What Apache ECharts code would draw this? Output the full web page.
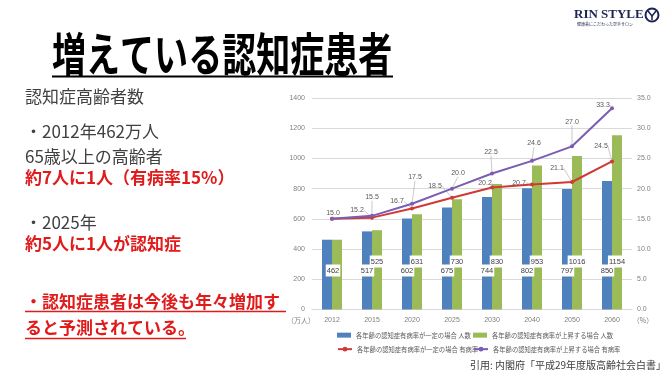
<!DOCTYPE html>
<html><head><meta charset="utf-8">
<script src="https://cdn.jsdelivr.net/npm/echarts@6/dist/echarts.min.js"></script>
<style>html,body{margin:0;padding:0;background:#fff}#c{width:668px;height:376px}</style>
</head><body><div id="c"></div>
<script>
// ---- data ----
const categories = ['2012','2015','2020','2025','2030','2040','2050','2060'];
const countConst = [462,517,602,675,744,802,797,850];
const countRise  = [462,525,631,730,830,953,1016,1154];
const rateConst  = [15.0,15.2,16.7,18.5,20.2,20.7,21.1,24.5];
const rateRise   = [15.0,15.5,17.5,20.0,22.5,24.6,27.0,33.3];
const seriesNames = [
  '各年齢の認知症有病率が一定の場合 人数',
  '各年齢の認知症有病率が上昇する場合 人数',
  '各年齢の認知症有病率が一定の場合 有病率',
  '各年齢の認知症有病率が上昇する場合 有病率'
];
const leftAxisName = '（万人）';
const rightAxisName = '（%）';

// ---- label placement (style only) ----
const riseLabelOffset  = [[1,-6],[0,-19],[3,-27],[6,-16],[-1,-22],[2,-18],[0,-25],[-9,-4]];
const constLabelOffset = [[0,0],[-15,-8],[-15,-8],[-17,-12],[-7,-5],[-13,-2],[-15,-14],[-11,-16]];

const C_BLUE='#4f81bd', C_GREEN='#9bbb59', C_RED='#cf3a36', C_PURPLE='#7b5cb3';
const GREY='#595959';
const RED_TXT='#e01b1b', DARK='#404040';
const JP='"Noto Sans CJK JP","Noto Sans",sans-serif';

const chart = echarts.init(document.getElementById('c'), null, {renderer:'canvas'});

function lineLayout(offsets){
  return function(p){
    const o = offsets[p.dataIndex];
    return {dx:o[0], dy:o[1]+6};
  };
}
const barLabel = (dist)=>({
  show:true, position:'insideBottom', distance:dist, fontSize:7.5, color:DARK,
  backgroundColor:'#fff', padding:[2,1], fontFamily:'Liberation Sans, sans-serif'
});

const leftText = [
  {t:'認知症高齢者数', y:97, c:DARK, w:'normal'},
  {t:'・2012年462万人', y:132, c:DARK, w:'normal'},
  {t:'65歳以上の高齢者', y:157, c:DARK, w:'normal'},
  {t:'約7人に1人（有病率15%）', y:178, c:RED_TXT, w:'bold'},
  {t:'・2025年', y:223, c:DARK, w:'normal'},
  {t:'約5人に1人が認知症', y:244, c:RED_TXT, w:'bold'},
  {t:'・認知症患者は今後も年々増加す', y:302, c:RED_TXT, w:'bold'},
  {t:'ると予測されている。', y:328, c:RED_TXT, w:'bold'}
];

const graphics = [
  {type:'text', x:52, y:53.5, scaleX:0.74, style:{text:'増えている認知症患者', x:0, y:0, fill:'#000',
    font:'bold 46px '+JP, verticalAlign:'middle'}},
  {type:'line', shape:{x1:52,y1:76.5,x2:393,y2:76.5}, style:{stroke:'#000', lineWidth:2}},
  {type:'text', style:{text:'RIN STYLE', x:574, y:15, fill:'#1b2452', font:'bold 13px "Liberation Serif",serif', verticalAlign:'middle'}},
  {type:'text', style:{text:'健康美にこだわった空手サロン', x:577, y:24, fill:'#1b2452', font:'4px '+JP, verticalAlign:'middle'}},
  {type:'circle', shape:{cx:652, cy:15, r:6.5}, style:{fill:'none', stroke:'#1b2452', lineWidth:2}},
  {type:'polyline', shape:{points:[[648,11],[652,16],[656,11]]}, style:{fill:'none', stroke:'#1b2452', lineWidth:1.5}},
  {type:'line', shape:{x1:652,y1:16,x2:652,y2:20}, style:{stroke:'#1b2452', lineWidth:1.5}},
  {type:'text', style:{text:leftAxisName, x:301, y:320, fill:'#7f7f7f', font:'7px '+JP, align:'center', verticalAlign:'middle'}},
  {type:'text', style:{text:rightAxisName, x:643, y:320, fill:'#7f7f7f', font:'7px '+JP, align:'center', verticalAlign:'middle'}},
  {type:'text', style:{text:'引用: 内閣府「平成29年度版高齢社会白書」', x:470, y:365, fill:DARK, font:'10px '+JP, verticalAlign:'middle'}},
  {type:'line', shape:{x1:25,y1:311.5,x2:286,y2:311.5}, style:{stroke:RED_TXT, lineWidth:1.5}},
  {type:'line', shape:{x1:25,y1:338.5,x2:186,y2:338.5}, style:{stroke:RED_TXT, lineWidth:1.5}}
];
leftText.forEach(l=>graphics.push({type:'text', style:{text:l.t, x:25, y:l.y, fill:l.c,
  font:l.w+' 17px '+JP, verticalAlign:'middle'}}));

const legendBase = {itemWidth:14, itemHeight:5, itemGap:4, textStyle:{fontSize:6.3, color:GREY, fontFamily:JP}, padding:0};

chart.setOption({
  animation:false,
  backgroundColor:'#fff',
  grid:{left:312, right:36, top:98, bottom:66.5, containLabel:false},
  legend:[
    Object.assign({}, legendBase, {left:337, top:332, data:[{name:seriesNames[0], icon:'rect'}]}),
    Object.assign({}, legendBase, {left:473, top:332, data:[{name:seriesNames[1], icon:'rect'}]}),
    Object.assign({}, legendBase, {left:337, top:346, itemHeight:6, data:[seriesNames[2]]}),
    Object.assign({}, legendBase, {left:473, top:346, itemHeight:6, data:[seriesNames[3]]})
  ],
  xAxis:{type:'category', data:categories, boundaryGap:true,
    axisLine:{lineStyle:{color:'#d9d9d9'}}, axisTick:{show:false},
    axisLabel:{fontSize:7, color:'#7f7f7f', margin:7}},
  yAxis:[
    {type:'value', min:0, max:1400, interval:200,
      axisLine:{show:false}, axisTick:{show:false},
      axisLabel:{fontSize:7, color:'#7f7f7f', margin:7, formatter:v=>String(v)},
      splitLine:{lineStyle:{color:'#d9d9d9', width:1}}},
    {type:'value', min:0, max:35, interval:5, position:'right',
      axisLine:{show:false}, axisTick:{show:false},
      axisLabel:{fontSize:7, color:'#7f7f7f', margin:5, formatter:v=>v.toFixed(1)},
      splitLine:{show:false}}
  ],
  series:[
    {name:seriesNames[0], type:'bar', data:countConst, itemStyle:{color:C_BLUE},
      barGap:'0%', barCategoryGap:'50%', label:barLabel(33),
      labelLayout:p=>p.dataIndex===0?{dx:6}:{}},
    {name:seriesNames[1], type:'bar', itemStyle:{color:C_GREEN},
      data:countRise.map((v,i)=>i===0?{value:v, label:{show:false}}:v),
      label:barLabel(42)},
    {name:seriesNames[2], type:'line', yAxisIndex:1, data:rateConst.map((v,i)=>i===0?{value:v,label:{show:false}}:v),
      lineStyle:{color:C_RED, width:2}, itemStyle:{color:C_RED}, symbol:'circle', symbolSize:4, z:5,
      label:{show:true, position:'top', distance:0, fontSize:7, color:GREY, formatter:p=>p.value.toFixed(1), fontFamily:'Liberation Sans, sans-serif'},
      labelLine:{show:true, lineStyle:{color:'#a6a6a6', width:0.6}},
      labelLayout:lineLayout(constLabelOffset)},
    {name:seriesNames[3], type:'line', yAxisIndex:1, data:rateRise,
      lineStyle:{color:C_PURPLE, width:2}, itemStyle:{color:C_PURPLE}, symbol:'circle', symbolSize:4, z:6,
      label:{show:true, position:'top', distance:0, fontSize:7, color:GREY, formatter:p=>p.value.toFixed(1), fontFamily:'Liberation Sans, sans-serif'},
      labelLine:{show:true, lineStyle:{color:'#a6a6a6', width:0.6}},
      labelLayout:lineLayout(riseLabelOffset)}
  ],
  graphic:graphics
});
</script>
</body></html>
